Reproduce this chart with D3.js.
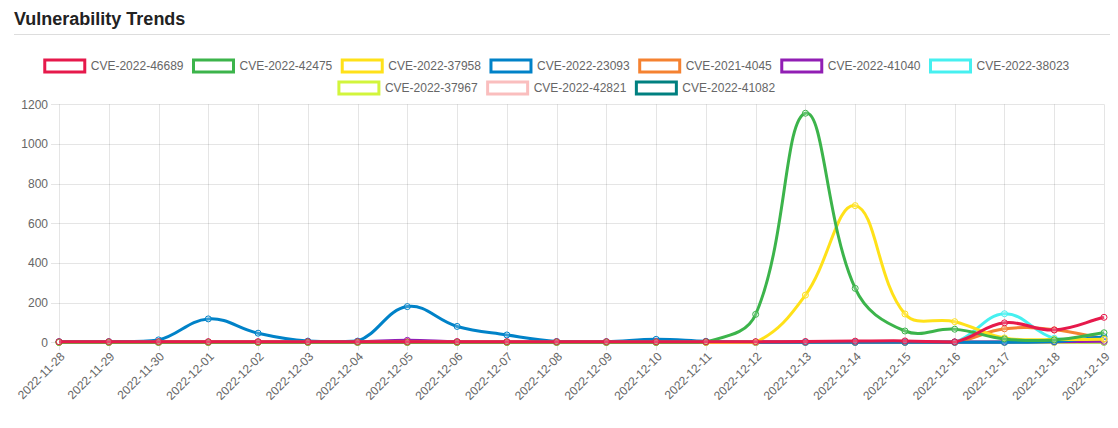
<!DOCTYPE html>
<html>
<head>
<meta charset="utf-8">
<script src="https://cdn.jsdelivr.net/npm/d3@7"></script>
<style>
  html, body { margin: 0; padding: 0; background: #fff; }
  svg { display: block; font-family: "Liberation Sans", Arial, Helvetica, sans-serif; }
  .axis text { font-size: 12px; fill: #666; font-family: "Liberation Sans", Arial, Helvetica, sans-serif; }
</style>
</head>
<body>
<svg id="chart" width="1118" height="428"></svg>
<script>
const dates = ["2022-11-28","2022-11-29","2022-11-30","2022-12-01","2022-12-02","2022-12-03","2022-12-04","2022-12-05","2022-12-06","2022-12-07","2022-12-08","2022-12-09","2022-12-10","2022-12-11","2022-12-12","2022-12-13","2022-12-14","2022-12-15","2022-12-16","2022-12-17","2022-12-18","2022-12-19"];
const yTicks = [0, 200, 400, 600, 800, 1000, 1200];

const seriesNames = ["CVE-2022-46689","CVE-2022-42475","CVE-2022-37958","CVE-2022-23093","CVE-2021-4045","CVE-2022-41040","CVE-2022-38023","CVE-2022-37967","CVE-2022-42821","CVE-2022-41082"];
const seriesColors = ["#e6194b","#3cb44b","#ffe119","#0082c8","#f58231","#911eb4","#46f0f0","#d2f53c","#fabebe","#008080"];

const cve46689 = [3,3,3,3,3,3,3,3,3,3,3,3,3,3,3,4,6,7,2,98,62,126];
const cve42475 = [0,0,0,0,0,0,0,0,0,0,0,0,0,2,141,1155,272,57,66,17,12,48];
const cve37958 = [0,0,0,0,0,0,0,0,0,0,0,0,0,0,0,238,689,143,104,22,14,15];
const cve23093 = [3,3,12,118,46,6,6,180,80,37,4,3,15,5,0,0,0,0,0,0,4,28];
const cve20214045 = [0,0,0,0,0,0,0,0,0,0,0,0,0,0,0,0,0,0,0,68,63,18];
const cve41040 = [2,2,2,2,2,2,2,10,3,2,2,2,2,2,2,2,2,2,2,2,3,5];
const cve38023 = [0,0,0,0,0,0,0,0,0,0,0,0,0,0,0,0,0,0,0,144,20,15];
const cve37967 = [0,0,0,0,0,0,0,0,0,0,0,0,0,0,0,0,0,0,0,0,0,0];
const cve42821 = [0,0,0,0,0,0,0,0,0,0,0,0,0,0,0,0,0,0,0,0,0,4];
const cve41082 = [0,0,0,0,0,0,0,0,0,0,0,0,0,0,0,0,0,0,0,0,0,0];

const seriesValues = [cve46689,cve42475,cve37958,cve23093,cve20214045,cve41040,cve38023,cve37967,cve42821,cve41082];
const series = seriesNames.map((n, i) => ({ name: n, color: seriesColors[i], values: seriesValues[i] }));

const svg = d3.select("#chart");
const area = { left: 59, right: 1104, top: 104.3, bottom: 342.3 };

// Title
svg.append("text").attr("x", 14).attr("y", 25)
  .attr("font-size", 18).attr("font-weight", "bold").attr("fill", "#222")
  .text("Vulnerability Trends");
svg.append("line").attr("x1", 14).attr("x2", 1110).attr("y1", 34.5).attr("y2", 34.5)
  .attr("stroke", "#ddd").attr("stroke-width", 1);

const x = d3.scalePoint().domain(dates).range([area.left, area.right]);
const y = d3.scaleLinear().domain([0, 1200]).range([area.bottom, area.top]);

// Grid
const grid = svg.append("g");
grid.selectAll("line.h").data(yTicks).join("line")
  .attr("x1", area.left - 8).attr("x2", area.right)
  .attr("y1", d => Math.round(y(d)) + 0.5).attr("y2", d => Math.round(y(d)) + 0.5)
  .attr("stroke", "rgba(0,0,0,0.1)");
grid.selectAll("line.v").data(dates).join("line")
  .attr("x1", d => Math.round(x(d)) + 0.5).attr("x2", d => Math.round(x(d)) + 0.5)
  .attr("y1", area.top).attr("y2", area.bottom + 8)
  .attr("stroke", "rgba(0,0,0,0.1)");

// Y axis
const yAxis = svg.append("g").attr("class", "axis").attr("transform", `translate(${area.left},0)`)
  .call(d3.axisLeft(y).tickValues(yTicks).tickFormat(d3.format("d")).tickSize(8).tickPadding(3));
yAxis.attr("font-size", null).attr("font-family", null);
yAxis.select(".domain").remove();
yAxis.selectAll(".tick line").remove();

// X axis
const xAxis = svg.append("g").attr("class", "axis").attr("transform", `translate(0,${area.bottom})`)
  .call(d3.axisBottom(x).tickSize(8).tickPadding(0));
xAxis.attr("font-size", null).attr("font-family", null);
xAxis.select(".domain").remove();
xAxis.selectAll(".tick line").remove();
xAxis.selectAll("text")
  .attr("text-anchor", "end")
  .attr("dy", "0.35em")
  .attr("transform", "translate(3,12) rotate(-45)")
  .attr("y", 0).attr("x", 0);

// Chart.js-style spline
function splinePath(pts, t) {
  const n = pts.length;
  const cps = pts.map((cur, i) => {
    const prev = i === 0 ? cur : pts[i - 1];
    const next = i === n - 1 ? cur : pts[i + 1];
    const d01 = Math.hypot(cur[0] - prev[0], cur[1] - prev[1]);
    const d12 = Math.hypot(next[0] - cur[0], next[1] - cur[1]);
    let s01 = d01 / (d01 + d12), s12 = d12 / (d01 + d12);
    if (isNaN(s01)) s01 = 0; if (isNaN(s12)) s12 = 0;
    const fa = t * s01, fb = t * s12;
    const clampY = v => Math.max(area.top, Math.min(area.bottom, v));
    const clampX = v => Math.max(area.left, Math.min(area.right, v));
    return {
      p: [clampX(cur[0] - fa * (next[0] - prev[0])), clampY(cur[1] - fa * (next[1] - prev[1]))],
      n: [clampX(cur[0] + fb * (next[0] - prev[0])), clampY(cur[1] + fb * (next[1] - prev[1]))]
    };
  });
  let d = `M${pts[0][0]},${pts[0][1]}`;
  for (let i = 1; i < n; i++) {
    d += `C${cps[i - 1].n[0]},${cps[i - 1].n[1]} ${cps[i].p[0]},${cps[i].p[1]} ${pts[i][0]},${pts[i][1]}`;
  }
  return d;
}

const plot = svg.append("g");
series.slice().reverse().forEach(s => {
  const pts = s.values.map((v, i) => [x(dates[i]), y(v)]);
  const g = plot.append("g");
  g.append("path").attr("d", splinePath(pts, 0.4))
    .attr("fill", "none").attr("stroke", s.color).attr("stroke-width", 3)
    .attr("stroke-linejoin", "round");
  g.selectAll("circle").data(pts).join("circle")
    .attr("cx", d => d[0]).attr("cy", d => d[1]).attr("r", 3)
    .attr("fill", "rgba(255,255,255,0.2)").attr("stroke", s.color).attr("stroke-width", 1);
});

// Legend (Chart.js style)
const legend = svg.append("g");
const boxW = 40, boxH = 12, gap = 10, fontSize = 12;
const measure = svg.append("text").attr("font-size", fontSize).attr("visibility", "hidden");
const items = series.map(s => {
  measure.text(s.name);
  const w = measure.node().getComputedTextLength();
  return { s, w, total: boxW + fontSize / 2 + w };
});
measure.remove();
const rows = [items.slice(0, 7), items.slice(7)];
const rowY = [66, 88];
const centerX = 557;
rows.forEach((row, ri) => {
  const width = d3.sum(row, d => d.total) + gap * (row.length - 1);
  let cx = centerX - width / 2;
  row.forEach(it => {
    legend.append("rect").attr("x", cx).attr("y", rowY[ri] - boxH / 2)
      .attr("width", boxW).attr("height", boxH)
      .attr("fill", "#fff").attr("stroke", it.s.color).attr("stroke-width", 3);
    legend.append("text").attr("x", cx + boxW + fontSize / 2).attr("y", rowY[ri])
      .attr("dy", "0.35em").attr("font-size", fontSize).attr("fill", "#666")
      .text(it.s.name);
    cx += it.total + gap;
  });
});
</script>
</body>
</html>
